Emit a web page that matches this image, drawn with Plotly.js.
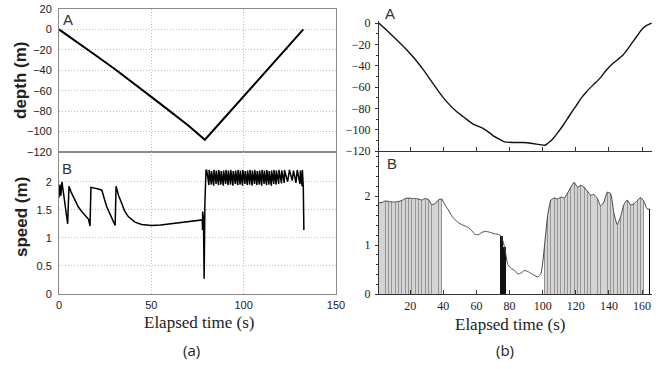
<!DOCTYPE html>
<html>
<head>
<meta charset="utf-8">
<script src="https://cdn.plot.ly/plotly-3.0.1.min.js"></script>
<style>html,body{margin:0;padding:0;background:#fff}#chart{width:667px;height:369px}</style>
</head>
<body>
<div id="chart"></div>
<script>
// ---------- panel (a) ----------
const aDepthT = [0, 10, 20, 30, 40, 50, 60, 70, 79, 98, 132.3];
const aDepthV = [0, -12.5, -25.5, -38.5, -52, -66, -80, -94, -108, -69.5, 0];

const aSpeedT = [0, 0.5, 1.0, 1.6, 4.7, 5.4, 6.5, 8.7, 10.5, 12.3, 15.0, 16.0, 16.8, 17.3, 21.3, 23.2, 24.5, 25.8, 28.5, 30.4, 30.9, 32.3, 33.9, 35.5, 37.5, 41.1, 44.8, 50.0, 55.0, 65.5, 77.6, 77.7, 77.8, 78.2, 78.6, 79.0, 79.6,
  80.0, 81.2, 81.3, 82.5, 82.6, 83.8, 83.9, 85.1, 85.2, 86.4, 86.5, 87.7, 87.8, 89.0, 89.1, 90.3, 90.4, 91.6, 91.7, 92.9, 93.0, 94.2, 94.3, 95.5, 95.6, 96.8, 96.9, 98.1, 98.2, 99.4, 99.5, 100.7, 100.8, 102.0,
  102.1, 103.3, 103.4, 104.6, 104.7, 105.9, 106.0, 107.2, 107.3, 108.5, 108.6, 109.8, 109.9, 111.1, 111.2, 112.4, 112.5, 113.7, 113.8, 115.0, 115.1, 116.3, 116.4, 117.6, 117.7, 119.0, 119.1, 120.5, 120.6, 122.0,
  122.1, 123.8, 124.8, 126.3, 127.0, 128.3, 129.0, 130.5, 130.7, 131.6, 131.8, 132.3, 132.6];
const aSpeedV = [1.72, 1.95, 1.75, 2.00, 1.25, 1.92, 1.82, 1.66, 1.55, 1.47, 1.38, 1.33, 1.21, 1.90, 1.87, 1.85, 1.70, 1.56, 1.36, 1.22, 1.92, 1.75, 1.62, 1.48, 1.38, 1.28, 1.24, 1.22, 1.23, 1.27, 1.32, 1.14, 1.47, 1.35, 0.27, 1.60, 2.21,
  2.20, 1.94, 2.21, 1.95, 2.19, 1.93, 2.21, 1.96, 2.20, 1.94, 2.21, 1.95, 2.19, 1.93, 2.20, 1.96, 2.21, 1.94, 2.20, 1.95, 2.21, 1.93, 2.19, 1.96, 2.20, 1.94, 2.21, 1.95, 2.20, 1.93, 2.21, 1.96, 2.19, 1.94,
  2.20, 1.95, 2.21, 1.93, 2.20, 1.96, 2.21, 1.94, 2.19, 1.95, 2.20, 1.93, 2.21, 1.96, 2.20, 1.94, 2.21, 1.95, 2.19, 1.93, 2.20, 1.96, 2.21, 1.95, 2.20, 1.96, 2.21, 1.97, 2.20, 1.98,
  2.21, 2.00, 2.21, 2.02, 2.20, 1.98, 2.21, 1.96, 2.20, 1.92, 2.21, 1.90, 1.14];

const aDepthTicks = [-120, -100, -80, -60, -40, -20, 0, 20];
const aSpeedTicks = [0, 0.5, 1, 1.5, 2];
const aTimeTicks = [0, 50, 100, 150];

// ---------- panel (b) ----------
const bDepthT = [1, 6, 12, 18, 23, 28, 33, 38, 42, 48, 53, 58, 64, 68, 71, 74, 77, 82, 88, 94, 98, 101.5, 103, 105.5, 109, 112.5, 116.5, 120.5, 123.5, 126.5, 130.5, 134.5, 138.5, 142.5, 145.5, 148.5, 151.5, 154.5, 157.5, 160.5, 163, 165.8];
const bDepthV = [0, -7, -16, -25.3, -34, -44, -55, -66, -73.7, -83, -89, -94.7, -98.8, -103, -106.6, -109, -111.5, -112, -112, -113, -114, -114.6, -113, -109.7, -103, -95.6, -86, -76.9, -70, -64.4, -58, -51.9, -44, -37.8, -34, -30, -24, -17.5, -11, -5, -2, 0];

const bSpeedT = [1, 3, 5, 7, 9, 11, 13, 15, 17, 19, 21, 23, 25, 27, 29, 31, 33, 35, 37, 39, 41, 43, 45, 47, 49, 51, 53, 55, 57, 59, 61, 63, 65, 67, 69, 71, 73, 75, 77, 79, 81, 83, 85, 87, 89, 91, 93, 95, 97, 99, 101, 103, 105, 107, 109, 111, 113, 115, 117, 119, 121, 123, 125, 127, 129, 131, 133, 135, 137, 139, 141, 143, 145, 147, 149, 151, 153, 155, 157, 159, 161, 163, 165];
const bSpeedV = [1.86, 1.87, 1.90, 1.89, 1.88, 1.88, 1.89, 1.91, 1.95, 1.96, 1.95, 1.95, 1.94, 1.92, 1.95, 1.93, 1.83, 1.84, 1.92, 1.94, 1.82, 1.72, 1.60, 1.52, 1.46, 1.42, 1.39, 1.36, 1.30, 1.22, 1.21, 1.25, 1.28, 1.27, 1.25, 1.23, 1.22, 1.18, 0.95, 0.60, 0.52, 0.48, 0.41, 0.43, 0.48, 0.46, 0.42, 0.38, 0.35, 0.42, 0.95, 1.60, 1.92, 1.96, 1.94, 1.98, 1.96, 2.06, 2.18, 2.28, 2.18, 2.22, 2.18, 2.10, 2.02, 2.03, 1.95, 1.80, 1.88, 2.08, 2.05, 1.65, 1.42, 1.58, 1.82, 1.92, 1.82, 1.84, 1.90, 1.97, 1.90, 1.74, 1.73];
const bEndMarkT = [164.3];
const bEndMarkV = [1.74];

const bDepthTicks = [-120, -100, -80, -60, -40, -20, 0];
const bSpeedTicks = [0, 1, 2];
const bTimeTicks = [20, 40, 60, 80, 100, 120, 140, 160];

// segments of panel (b) speed
function pick(cond) {
  const x = [], y = [];
  bSpeedT.forEach((t, i) => { if (cond(t)) { x.push(t); y.push(bSpeedV[i]); } });
  return {x, y};
}
const segL = pick(t => t <= 39);
const segR = pick(t => t >= 101 && t <= 161);
const segK = pick(t => t >= 75 && t <= 77);

const fillGray = 'rgba(160,160,160,0.45)';
const traces = [
  {x: aDepthT, y: aDepthV, xaxis: 'x', yaxis: 'y', mode: 'lines', line: {color: '#000', width: 2}},
  {x: aSpeedT, y: aSpeedV, xaxis: 'x2', yaxis: 'y2', mode: 'lines', line: {color: '#000', width: 1.5}},
  {x: bDepthT, y: bDepthV, xaxis: 'x3', yaxis: 'y3', mode: 'lines', line: {color: '#111', width: 1.4, shape: 'spline', smoothing: 0.4}},
  {type: 'bar', x: segL.x.concat(segR.x), y: segL.y.concat(segR.y), width: 0.55, xaxis: 'x4', yaxis: 'y4', marker: {color: '#8c8c8c', line: {width: 0}}},
  {type: 'bar', x: segK.x, y: segK.y, width: 2, xaxis: 'x4', yaxis: 'y4', marker: {color: '#111', line: {width: 0}}},
  {type: 'bar', x: bEndMarkT, y: bEndMarkV, width: 0.7, xaxis: 'x4', yaxis: 'y4', marker: {color: '#000', line: {width: 0}}},
  {x: segL.x, y: segL.y, xaxis: 'x4', yaxis: 'y4', mode: 'lines', fill: 'tozeroy', fillcolor: fillGray, line: {width: 0, shape: 'spline', smoothing: 0.5}},
  {x: segR.x, y: segR.y, xaxis: 'x4', yaxis: 'y4', mode: 'lines', fill: 'tozeroy', fillcolor: fillGray, line: {width: 0, shape: 'spline', smoothing: 0.5}},
  {x: bSpeedT, y: bSpeedV, xaxis: 'x4', yaxis: 'y4', mode: 'lines', line: {color: '#444', width: 1, shape: 'spline', smoothing: 0.5}}
];

const W = 667, H = 369;
const fx = p => p / W, fy = p => 1 - p / H;
const aX = [fx(59), fx(336)], bX = [fx(379), fx(652)];
const sans = {family: 'Arial, Liberation Sans, sans-serif', size: 11, color: '#222'};
const serif = {family: 'Liberation Serif, Times New Roman, serif', size: 12, color: '#222'};

const boxAxis = {showline: true, linecolor: '#8a8a8a', linewidth: 1, mirror: true, showgrid: true,
  gridcolor: '#bdbdbd', griddash: '1px,2px', gridwidth: 1, zeroline: false, ticks: '', tickfont: sans, ticklabelstandoff: 4};

const plainY = {showline: true, linecolor: '#333', linewidth: 1, showgrid: false, zeroline: false,
  ticks: 'outside', ticklen: 3, tickcolor: '#333', tickfont: serif, ticklabelstandoff: 2};

function note(text, px, py, font, extra) {
  return Object.assign({text: text, x: fx(px), y: fy(py), xref: 'paper', yref: 'paper', xanchor: 'center', yanchor: 'middle', showarrow: false, font: font}, extra || {});
}
const labFont = {family: 'Arial, sans-serif', size: 15, color: '#333'};
const yTitleFont = {family: 'Arial, sans-serif', size: 17, color: '#222'};
const xTitleFont = {family: 'Liberation Serif, Times New Roman, serif', size: 17, color: '#222'};
const capFont = {family: 'Open Sans, Noto Sans, sans-serif', size: 15, color: '#222'};

const layout = {
  width: W, height: H, margin: {l: 0, r: 0, t: 0, b: 0},
  paper_bgcolor: '#fff', plot_bgcolor: 'rgba(0,0,0,0)', showlegend: false,
  barmode: 'overlay', bargap: 0,
  xaxis: Object.assign({}, boxAxis, {domain: aX, anchor: 'y', range: [0, 150], tickvals: aTimeTicks, showticklabels: false}),
  yaxis: Object.assign({}, boxAxis, {domain: [fy(152), fy(9)], anchor: 'x', range: [-120, 20], tickvals: aDepthTicks}),
  xaxis2: Object.assign({}, boxAxis, {domain: aX, anchor: 'y2', range: [0, 150], tickvals: aTimeTicks, ticklabelstandoff: 1}),
  yaxis2: Object.assign({}, boxAxis, {domain: [fy(294), fy(152)], anchor: 'x2', range: [0, 2.53], tickvals: aSpeedTicks}),
  xaxis3: {domain: bX, anchor: 'y3', range: [1.2, 166], showline: true, linecolor: '#333', showgrid: false, zeroline: false,
    ticks: 'inside', ticklen: 4, tickcolor: '#333', tickvals: bTimeTicks, showticklabels: false},
  yaxis3: Object.assign({}, plainY, {domain: [fy(151), fy(21)], anchor: 'x3', range: [-120, 1.9], tickvals: bDepthTicks,
    minor: {dtick: 10, ticks: 'outside', ticklen: 2, tickcolor: '#333'}}),
  xaxis4: {domain: bX, anchor: 'y4', range: [1.2, 166], showline: true, linecolor: '#333', showgrid: false, zeroline: false,
    ticks: 'inside', ticklen: 4, tickcolor: '#333', tickvals: bTimeTicks, tickfont: serif, ticklabelstandoff: 1},
  yaxis4: Object.assign({}, plainY, {domain: [fy(294), fy(151)], anchor: 'x4', range: [0, 2.92], tickvals: bSpeedTicks,
    minor: {dtick: 0.2, ticks: 'outside', ticklen: 2, tickcolor: '#333'}}),
  annotations: [
    note('A', 68, 20, labFont),
    note('B', 67, 168, labFont),
    note('A', 390, 14, labFont),
    note('B', 392, 163, labFont),
    note('<b>depth (m)</b>', 21, 81, yTitleFont, {textangle: -90}),
    note('<b>speed (m)</b>', 21, 217, yTitleFont, {textangle: -90}),
    note('Elapsed time (s)', 199, 322, xTitleFont),
    note('Elapsed time (s)', 510, 324, xTitleFont),
    note('(a)', 192, 350, capFont),
    note('(b)', 505, 350, capFont)
  ]
};

Plotly.newPlot('chart', traces, layout, {staticPlot: true, displayModeBar: false});
</script>
</body>
</html>
